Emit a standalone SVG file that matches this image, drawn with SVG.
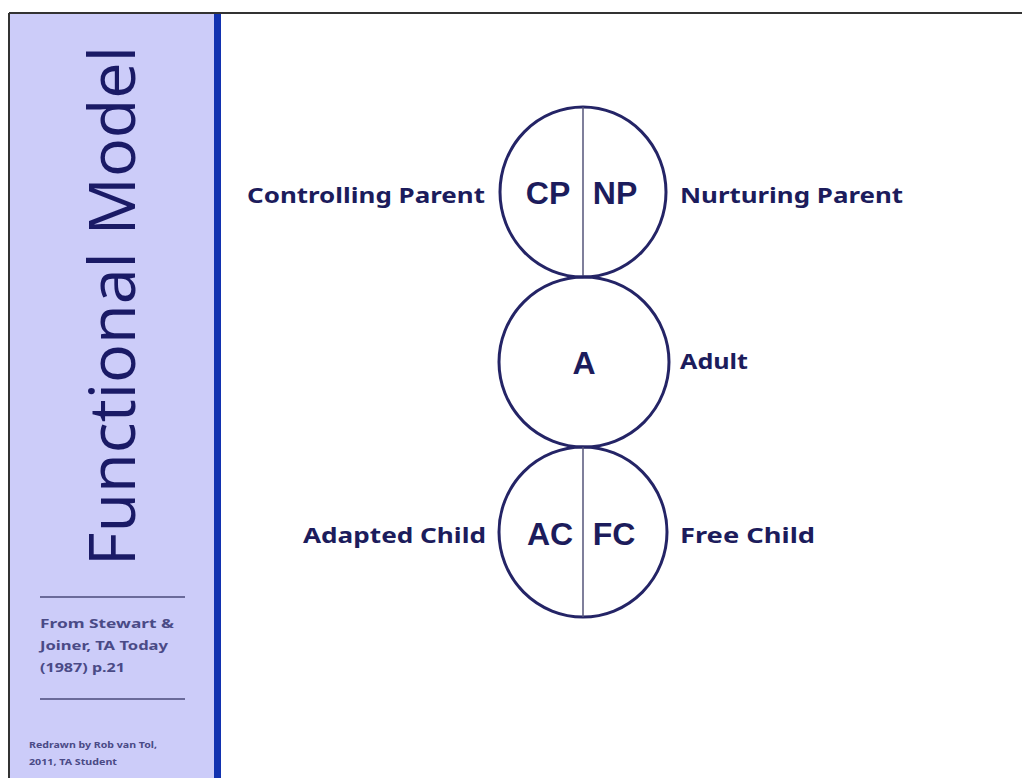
<svg xmlns="http://www.w3.org/2000/svg" width="1022" height="778" viewBox="0 0 1022 778">
<style>
.lbl{font-family:"Noto Sans","DejaVu Sans",sans-serif;font-weight:bold;font-size:22px;fill:#1c1c5c}
.ab{font-family:"Liberation Sans",Arial,sans-serif;font-weight:bold;font-size:32px;fill:#1c1c5c;text-anchor:middle}
.circ{fill:none;stroke:#242466;stroke-width:3}
.div{stroke:#55557a;stroke-width:1.5}
.side{font-family:"Noto Sans","DejaVu Sans",sans-serif;font-weight:bold;fill:#4a4a86}
</style>
<rect x="0" y="0" width="1022" height="778" fill="#ffffff"/>
<g id="sidebar">
<rect x="10" y="14" width="205" height="764" fill="#ccccf9"/>
<rect x="214" y="14" width="7" height="764" fill="#1232b0"/>
<line x1="9" y1="13" x2="1022" y2="13" stroke="#333" stroke-width="2"/>
<line x1="9" y1="13" x2="9" y2="778" stroke="#333" stroke-width="2"/>
<text transform="translate(135,566) rotate(-90)" font-family="Open Sans, Lato, sans-serif" font-size="64" fill="#1a1a66" textLength="520" lengthAdjust="spacingAndGlyphs">Functional Model</text>
<line x1="40" y1="597" x2="185" y2="597" stroke="#4a4a7a" stroke-width="1.5"/>
<text class="side" font-size="12.5" x="40" y="628" textLength="134" lengthAdjust="spacingAndGlyphs">From Stewart &amp;</text>
<text class="side" font-size="12.5" x="40" y="650" textLength="128" lengthAdjust="spacingAndGlyphs">Joiner, TA Today</text>
<text class="side" font-size="12.5" x="40" y="672" textLength="85" lengthAdjust="spacingAndGlyphs">(1987) p.21</text>
<line x1="40" y1="699" x2="185" y2="699" stroke="#4a4a7a" stroke-width="1.5"/>
<text class="side" font-size="8" x="29" y="748" textLength="128" lengthAdjust="spacingAndGlyphs">Redrawn by Rob van Tol,</text>
<text class="side" font-size="8" x="29" y="765" textLength="88" lengthAdjust="spacingAndGlyphs">2011, TA Student</text>
</g>
<g id="parent">
<ellipse class="circ" cx="583" cy="192" rx="83" ry="85"/>
<line class="div" x1="583" y1="107" x2="583" y2="277"/>
<text class="ab" x="548" y="204">CP</text>
<text class="ab" x="615" y="204">NP</text>
<text class="lbl" x="247" y="203" textLength="238" lengthAdjust="spacingAndGlyphs">Controlling Parent</text>
<text class="lbl" x="680" y="203" textLength="223" lengthAdjust="spacingAndGlyphs">Nurturing Parent</text>
</g>
<g id="adult">
<ellipse class="circ" cx="584" cy="362" rx="85" ry="85"/>
<text class="ab" x="584" y="374">A</text>
<text class="lbl" x="680" y="369" textLength="68" lengthAdjust="spacingAndGlyphs">Adult</text>
</g>
<g id="child">
<ellipse class="circ" cx="583" cy="532" rx="84" ry="85"/>
<line class="div" x1="583" y1="447" x2="583" y2="617"/>
<text class="ab" x="550" y="545">AC</text>
<text class="ab" x="614" y="545">FC</text>
<text class="lbl" x="303" y="543" textLength="183" lengthAdjust="spacingAndGlyphs">Adapted Child</text>
<text class="lbl" x="680" y="543" textLength="135" lengthAdjust="spacingAndGlyphs">Free Child</text>
</g>
<g id="connectors"></g>
</svg>
